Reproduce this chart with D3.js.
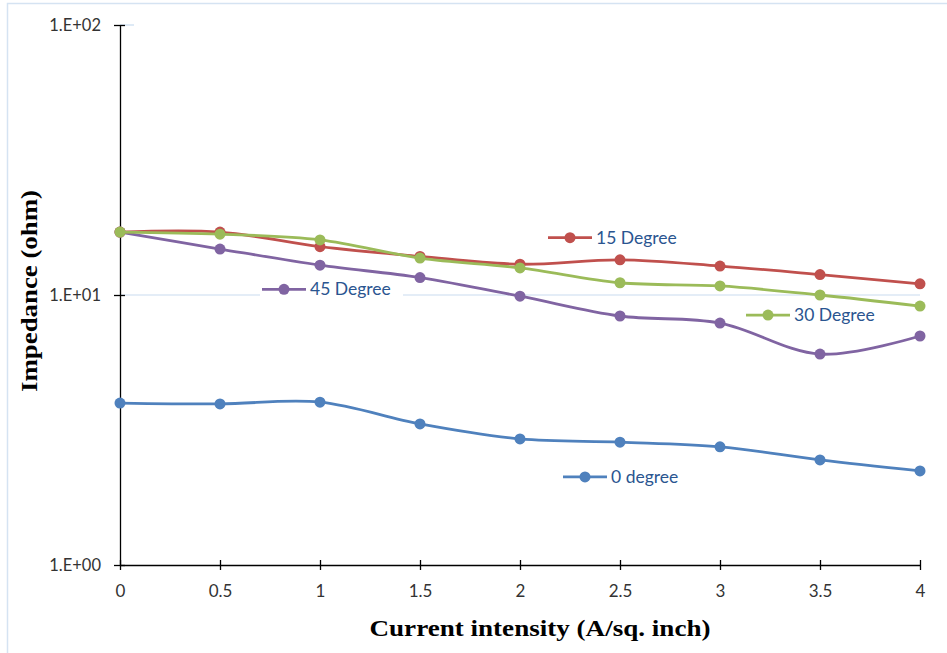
<!DOCTYPE html>
<html>
<head>
<meta charset="utf-8">
<script src="https://cdn.jsdelivr.net/npm/d3@7"></script>
<style>
  html, body { margin: 0; padding: 0; background: #fff; }
  svg { display: block; }
</style>
</head>
<body>
<svg id="chart" width="947" height="653"></svg>
<script>
// Impedance vs current intensity for four inclination angles
const currentIntensity = [0, 0.5, 1, 1.5, 2, 2.5, 3, 3.5, 4];
const deg0  = [3.98, 3.95, 4.01, 3.33, 2.93, 2.85, 2.74, 2.45, 2.23];
const deg15 = [17.1, 17.1, 15.1, 13.9, 13.0, 13.5, 12.8, 11.9, 11.0];
const deg30 = [17.1, 16.8, 16.0, 13.7, 12.6, 11.1, 10.8, 10.0, 9.1];
const deg45 = [17.1, 14.8, 12.9, 11.6, 9.9, 8.36, 7.87, 6.04, 7.05];
const seriesNames = ["0 degree", "15 Degree", "30 Degree", "45 Degree"];
const seriesColors = ["#4f81bd", "#c0504d", "#9bbb59", "#8064a2"];
const xTicks = [0, 0.5, 1, 1.5, 2, 2.5, 3, 3.5, 4];
const yTicks = [1, 10, 100];
const yTickLabels = ["1.E+00", "1.E+01", "1.E+02"];
const xTitle = "Current intensity (A/sq. inch)";
const yTitle = "Impedance (ohm)";

const seriesValues = [deg0, deg15, deg30, deg45];
// legend anchor in data space: [x, y]
const legendAnchor = [[2.215, 2.12], [2.14, 16.3], [3.13, 8.43], [0.71, 10.5]];

const svg = d3.select("#chart");
const plotLeft = 120, plotRight = 920, plotTop = 25, plotBottom = 565;

const x = d3.scaleLinear().domain([0, 4]).range([plotLeft, plotRight]);
const y = d3.scaleLog().domain([1, 100]).range([plotBottom, plotTop]);

// outer chart border
svg.append("rect")
  .attr("x", 7.5).attr("y", 3.5)
  .attr("width", 960).attr("height", 700)
  .attr("fill", "none").attr("stroke", "#d5e3f2").attr("stroke-width", 1.5);

// major gridline at 10
svg.append("line")
  .attr("x1", plotLeft).attr("x2", plotRight)
  .attr("y1", y(10)).attr("y2", y(10))
  .attr("stroke", "#c9dcf0").attr("stroke-width", 1.2);
svg.append("line")
  .attr("x1", plotLeft).attr("x2", plotLeft + 14)
  .attr("y1", y(100)).attr("y2", y(100))
  .attr("stroke", "#c9dcf0").attr("stroke-width", 1.2);

const tickFont = "Lato, 'Open Sans', sans-serif";

// y axis
const yAxis = d3.axisLeft(y).tickValues(yTicks)
  .tickFormat((d, i) => yTickLabels[i]).tickSizeInner(5).tickSizeOuter(0).tickPadding(14);
const gy = svg.append("g").attr("transform", `translate(${plotLeft},0)`).call(yAxis);
gy.select(".domain").attr("stroke", "#000").attr("stroke-width", 1.3);
gy.selectAll(".tick line").attr("stroke", "#000").attr("stroke-width", 1.3).attr("x2", 5).attr("x1", -6);
gy.selectAll(".tick text").attr("fill", "#333").style("font-family", tickFont).style("font-size", "16.5px");

// x axis
const xAxis = d3.axisBottom(x).tickValues(xTicks)
  .tickFormat(d3.format("")).tickSizeInner(5).tickSizeOuter(0).tickPadding(15);
const gx = svg.append("g").attr("transform", `translate(0,${plotBottom})`).call(xAxis);
gx.select(".domain").attr("stroke", "#000").attr("stroke-width", 1.3);
gx.selectAll(".tick line").attr("stroke", "#000").attr("stroke-width", 1.3).attr("y1", -5).attr("y2", 5);
gx.selectAll(".tick text").attr("fill", "#333").style("font-family", tickFont).style("font-size", "17px");

// axis titles
svg.append("text")
  .attr("x", 540).attr("y", 636)
  .attr("text-anchor", "middle")
  .attr("textLength", 341).attr("lengthAdjust", "spacingAndGlyphs")
  .style("font-family", "'Liberation Serif', 'Times New Roman', serif")
  .style("font-weight", "bold").style("font-size", "23px")
  .text(xTitle);
svg.append("text")
  .attr("transform", "translate(37,291) rotate(-90)")
  .attr("text-anchor", "middle")
  .attr("textLength", 202).attr("lengthAdjust", "spacingAndGlyphs")
  .style("font-family", "'Liberation Serif', 'Times New Roman', serif")
  .style("font-weight", "bold").style("font-size", "23px")
  .text(yTitle);

// series lines and markers
const line = d3.line()
  .x((d, i) => x(currentIntensity[i]))
  .y(d => y(d))
  .curve(d3.curveCatmullRom.alpha(0.5));

const drawOrder = [0, 3, 1, 2];
drawOrder.forEach(s => {
  const g = svg.append("g");
  g.append("path")
    .attr("d", line(seriesValues[s]))
    .attr("fill", "none")
    .attr("stroke", seriesColors[s])
    .attr("stroke-width", 2.8);
  g.selectAll("circle").data(seriesValues[s]).join("circle")
    .attr("cx", (d, i) => x(currentIntensity[i]))
    .attr("cy", d => y(d))
    .attr("r", 5.5)
    .attr("fill", seriesColors[s]);
});

// inline legend entries
seriesNames.forEach((name, s) => {
  const lx = x(legendAnchor[s][0]);
  const ly = y(legendAnchor[s][1]);
  const g = svg.append("g").attr("transform", `translate(${lx},${ly})`);
  g.append("rect").attr("x", -2).attr("y", -8).attr("width", 143).attr("height", 16).attr("fill", "#fff");
  g.append("line").attr("x1", 0).attr("x2", 44).attr("y1", 0).attr("y2", 0)
    .attr("stroke", seriesColors[s]).attr("stroke-width", 2.8);
  g.append("circle").attr("cx", 22).attr("cy", 0).attr("r", 5.5).attr("fill", seriesColors[s]);
  g.append("text").attr("x", 48).attr("y", 6)
    .attr("fill", "#2a5590")
    .style("font-family", "Lato, 'Open Sans', sans-serif")
    .style("font-size", "17.5px")
    .text(name);
});
</script>
</body>
</html>
